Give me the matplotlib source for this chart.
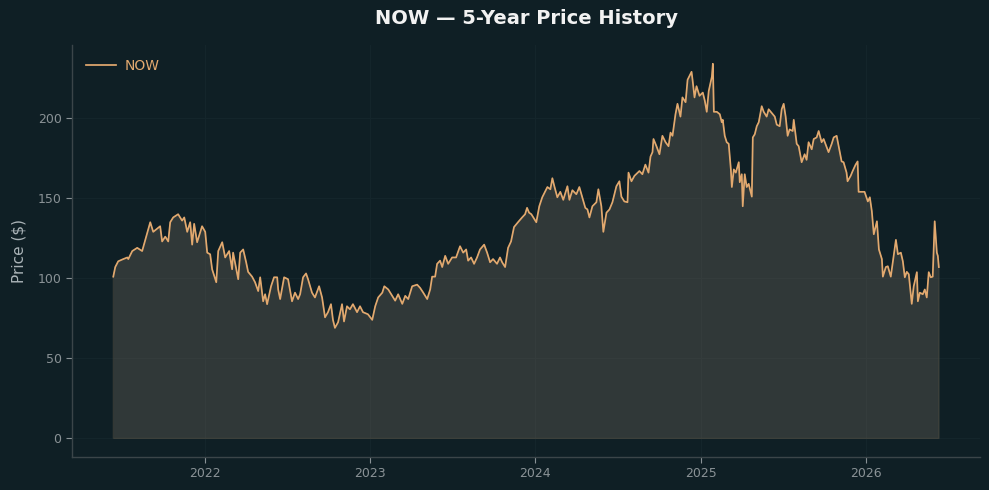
import matplotlib
matplotlib.use("Agg")
import matplotlib.pyplot as plt
import matplotlib.dates as mdates
import numpy as np
import pandas as pd

ticker = "NOW"
title = "NOW — 5-Year Price History"
ylabel = "Price ($)"

# time stamps as decimal years
t_years = [
    2021.443, 2021.455, 2021.473, 2021.504, 2021.528, 2021.534, 2021.558, 2021.588, 2021.618, 2021.637,
    2021.667, 2021.685, 2021.709, 2021.727, 2021.739, 2021.758, 2021.776, 2021.788, 2021.806, 2021.836,
    2021.860, 2021.873, 2021.891, 2021.909, 2021.921, 2021.933, 2021.951, 2021.981, 2022.000, 2022.012,
    2022.030, 2022.042, 2022.067, 2022.079, 2022.103, 2022.121, 2022.145, 2022.163, 2022.169, 2022.200,
    2022.212, 2022.230, 2022.248, 2022.260, 2022.284, 2022.302, 2022.321, 2022.333, 2022.351, 2022.363,
    2022.375, 2022.399, 2022.417, 2022.436, 2022.442, 2022.454, 2022.478, 2022.502, 2022.526, 2022.544,
    2022.563, 2022.575, 2022.593, 2022.611, 2022.623, 2022.647, 2022.665, 2022.690, 2022.708, 2022.726,
    2022.744, 2022.762, 2022.774, 2022.786, 2022.805, 2022.829, 2022.841, 2022.859, 2022.877, 2022.895,
    2022.920, 2022.938, 2022.956, 2022.986, 2023.012, 2023.030, 2023.048, 2023.073, 2023.085, 2023.109,
    2023.133, 2023.151, 2023.169, 2023.194, 2023.212, 2023.230, 2023.254, 2023.284, 2023.302, 2023.321,
    2023.345, 2023.363, 2023.375, 2023.393, 2023.405, 2023.423, 2023.436, 2023.454, 2023.472, 2023.496,
    2023.520, 2023.544, 2023.563, 2023.581, 2023.593, 2023.611, 2023.629, 2023.647, 2023.665, 2023.690,
    2023.708, 2023.726, 2023.744, 2023.768, 2023.786, 2023.799, 2023.817, 2023.835, 2023.853, 2023.871,
    2023.895, 2023.920, 2023.938, 2023.950, 2023.962, 2023.976, 2024.006, 2024.024, 2024.042, 2024.073,
    2024.091, 2024.103, 2024.115, 2024.133, 2024.151, 2024.169, 2024.194, 2024.206, 2024.224, 2024.248,
    2024.266, 2024.284, 2024.302, 2024.315, 2024.327, 2024.345, 2024.369, 2024.381, 2024.399, 2024.411,
    2024.430, 2024.448, 2024.466, 2024.490, 2024.508, 2024.520, 2024.538, 2024.557, 2024.563, 2024.581,
    2024.599, 2024.629, 2024.647, 2024.665, 2024.684, 2024.696, 2024.708, 2024.714, 2024.732, 2024.750,
    2024.768, 2024.787, 2024.805, 2024.817, 2024.829, 2024.847, 2024.859, 2024.877, 2024.889, 2024.908,
    2024.920, 2024.944, 2024.950, 2024.962, 2024.974, 2024.992, 2025.012, 2025.024, 2025.036, 2025.048,
    2025.067, 2025.073, 2025.079, 2025.097, 2025.115, 2025.127, 2025.133, 2025.145, 2025.157, 2025.169,
    2025.182, 2025.188, 2025.200, 2025.212, 2025.230, 2025.236, 2025.248, 2025.254, 2025.266, 2025.278,
    2025.290, 2025.309, 2025.315, 2025.327, 2025.339, 2025.351, 2025.369, 2025.381, 2025.399, 2025.411,
    2025.436, 2025.448, 2025.460, 2025.478, 2025.490, 2025.502, 2025.514, 2025.526, 2025.538, 2025.557,
    2025.563, 2025.581, 2025.593, 2025.611, 2025.629, 2025.641, 2025.653, 2025.672, 2025.684, 2025.702,
    2025.714, 2025.732, 2025.744, 2025.762, 2025.774, 2025.793, 2025.805, 2025.823, 2025.835, 2025.853,
    2025.865, 2025.883, 2025.889, 2025.908, 2025.920, 2025.938, 2025.950, 2025.956, 2025.974, 2025.992,
    2026.012, 2026.024, 2026.036, 2026.048, 2026.067, 2026.079, 2026.097, 2026.103, 2026.121, 2026.133,
    2026.151, 2026.163, 2026.182, 2026.194, 2026.212, 2026.224, 2026.236, 2026.248, 2026.260, 2026.278,
    2026.290, 2026.309, 2026.315, 2026.327, 2026.345, 2026.357, 2026.369, 2026.381, 2026.393, 2026.405,
    2026.417, 2026.430, 2026.436, 2026.442,
]

prices = [
    101, 107, 110.6, 112, 113, 112, 117, 119, 117, 124,
    135, 129, 131, 132.5, 123, 126, 123, 135, 138, 140,
    136, 138, 129, 135, 121, 134, 122.5, 132.5, 129, 116,
    115, 105.6, 97.5, 117, 122.5, 113, 117, 105.6, 116, 99.4,
    116, 118, 110, 104, 101, 97.5, 92, 100.6, 85.6, 90,
    83.8, 95, 100.6, 100.6, 93, 87, 100.6, 99.4, 85.6, 91,
    87, 90, 100.6, 103, 99.4, 91, 88, 95, 88, 75.6,
    78.8, 83.8, 74, 69, 72.5, 83.8, 73, 82.5, 80.6, 83.8,
    78.8, 82.5, 78.8, 77.5, 74, 82.5, 88, 91, 95, 93,
    89, 86, 90, 84, 89, 87, 95, 96, 94, 91,
    87, 93, 101, 101, 109, 111, 107, 114, 109, 113,
    113, 120, 116, 118, 111, 113, 109, 113, 118, 121,
    116, 110, 112, 109, 113, 110, 107, 119, 123, 132,
    135, 138, 140, 144, 141, 140, 135, 145, 150.6, 157,
    155.6, 162.5, 157.5, 150.6, 154, 149, 157.5, 149, 155, 152.5,
    157, 150.6, 144, 143, 138, 145, 147.5, 155.6, 145, 129,
    141, 143, 147.5, 157.5, 160.6, 151, 148, 147.5, 166, 160.6,
    164, 167, 165, 171, 166, 176, 178.8, 187, 182.5, 177.5,
    189, 185, 182.5, 191, 189, 202.5, 209, 201, 213, 210,
    224, 229, 224, 213, 220, 214, 216, 211, 204, 217,
    226, 234, 204, 204, 202.5, 197.5, 199, 189, 185, 184,
    168, 157, 168, 166, 172.5, 160, 165, 145, 165, 157,
    159, 151, 188, 190, 195, 197.5, 207.5, 204, 201, 205.6,
    202.5, 201, 196, 195, 205.6, 209, 201, 189, 193, 192,
    199, 184, 182.5, 172.5, 177.5, 174, 185, 180.6, 187, 188,
    192, 185, 187, 182, 178.8, 184, 188, 189, 182.5, 173,
    172.5, 166, 160.6, 164, 167, 171, 173, 154, 154, 154,
    148, 150.6, 142, 127.5, 135.6, 118, 112, 101, 107, 107.5,
    101, 110, 124, 115, 116, 110.6, 100.6, 104, 102.5, 84,
    95, 103.8, 85.6, 91, 90, 93, 88, 103.8, 100.6, 101,
    135.6, 116, 114, 107,
]


def to_dates(years):
    out = []
    for y in years:
        yr = int(np.floor(y))
        start = pd.Timestamp(year=yr, month=1, day=1)
        end = pd.Timestamp(year=yr + 1, month=1, day=1)
        out.append(start + (end - start) * (y - yr))
    return pd.to_datetime(out)


dates = to_dates(t_years)
vals = np.array(prices, dtype=float)

BG = "#0f1f25"
LINE = "#e2a96f"
TICK = "#8a9296"
SPINE = "#3b4549"
GRID = "#14252b"

fig = plt.figure(figsize=(9.89, 4.90), dpi=100, facecolor=BG)
ax = fig.add_axes([0.0728, 0.0673, 0.9182, 0.8407])
ax.set_facecolor(BG)

ax.fill_between(dates, 0, vals, color="#7f7366", alpha=0.30, linewidth=0)
ax.fill_between(dates, 0, vals, facecolor="none", edgecolor="#46463d", linewidth=0.8, alpha=0.7)
ax.plot(dates, vals, color=LINE, linewidth=1.25, label=ticker)

ax.xaxis.set_major_locator(mdates.YearLocator())
ax.xaxis.set_major_formatter(mdates.DateFormatter("%Y"))
ax.set_yticks([0, 50, 100, 150, 200])

ax.grid(True, color=GRID, linewidth=0.8)
ax.set_axisbelow(True)
for s in ["top", "right"]:
    ax.spines[s].set_visible(False)
for s in ["left", "bottom"]:
    ax.spines[s].set_color(SPINE)
    ax.spines[s].set_linewidth(1.0)
ax.tick_params(colors=TICK, labelsize=9, length=4, width=0.8)
for lab in ax.get_xticklabels() + ax.get_yticklabels():
    lab.set_color(TICK)

ax.set_ylabel(ylabel, color="#aab3b7", fontsize=11, labelpad=8)
ax.set_title(title, color="#f2f2f2", fontsize=14, fontweight="bold", pad=15)

leg = ax.legend(loc="upper left", frameon=False, fontsize=10, handlelength=2.2,
                borderaxespad=0.6, handletextpad=0.6)
for txt in leg.get_texts():
    txt.set_color(LINE)

fig.savefig("out.png", dpi=100, facecolor=BG)
